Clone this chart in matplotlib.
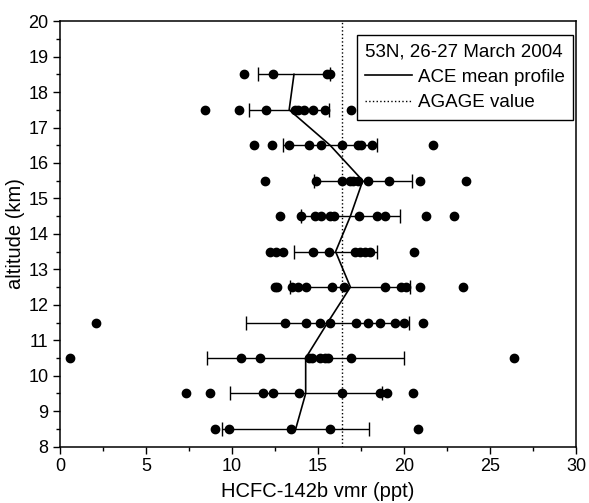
import matplotlib
matplotlib.use('Agg')
import matplotlib.pyplot as plt
from matplotlib.ticker import MultipleLocator

plt.rcParams['font.family'] = ['Liberation Sans', 'DejaVu Sans']

# altitude bins (km)
altitudes = [8.5, 9.5, 10.5, 11.5, 12.5, 13.5, 14.5, 15.5, 16.5, 17.5, 18.5]

# individual ACE occultations per altitude (ppt)
vmr_points = [
    [9.0, 9.85, 13.4, 15.7, 20.8],
    [7.3, 8.7, 11.8, 12.4, 13.9, 16.4, 18.6, 19.0, 20.5],
    [0.6, 10.5, 11.6, 14.5, 14.65, 15.1, 15.4, 15.6, 16.9, 26.4],
    [2.1, 13.1, 14.3, 15.1, 15.7, 17.2, 17.9, 18.6, 19.5, 20.0, 21.1],
    [12.5, 12.6, 13.5, 13.85, 14.3, 15.8, 16.5, 18.9, 19.8, 20.1, 20.9, 23.4],
    [12.2, 12.55, 12.95, 14.7, 15.65, 17.15, 17.45, 17.75, 18.0, 20.6],
    [12.8, 14.0, 14.85, 15.2, 15.7, 15.9, 17.4, 18.45, 18.9, 21.3, 22.9],
    [11.9, 14.9, 16.4, 16.85, 17.05, 17.35, 17.9, 19.1, 20.9, 23.6],
    [11.3, 12.3, 13.3, 14.5, 15.2, 16.4, 17.3, 17.5, 18.15, 21.7],
    [8.45, 10.4, 12.0, 13.65, 13.85, 14.2, 14.7, 15.4, 16.9],
    [10.7, 12.4, 15.5, 15.7],
]

# mean profile and 1-sigma
mean_vmr = [13.7, 14.28, 14.28, 15.56, 16.88, 16.02, 16.88, 17.6, 15.7, 13.32, 13.6]
std_vmr = [4.26, 4.41, 5.74, 4.75, 3.49, 2.4, 2.89, 2.85, 2.72, 2.33, 2.1]

agage_value = 16.4

fig = plt.figure(figsize=(5.89, 5.03), dpi=100)
ax = fig.add_axes([0.102, 0.112, 0.876, 0.846])

# scatter of single profiles
for alt, pts in zip(altitudes, vmr_points):
    ax.plot(pts, [alt] * len(pts), 'o', color='black', markersize=6, zorder=3)

# horizontal error bars
ax.errorbar(mean_vmr, altitudes, xerr=std_vmr, fmt='none', ecolor='black',
            elinewidth=1.0, capsize=5, capthick=1.0, zorder=2)

ax.plot(mean_vmr, altitudes, '-', color='black', linewidth=1.2,
        label='ACE mean profile', zorder=4)
ax.axvline(agage_value, color='black', linestyle=':', linewidth=1.0,
           label='AGAGE value', zorder=1)

ax.set_xlim(0, 30)
ax.set_ylim(8, 20)
ax.xaxis.set_major_locator(MultipleLocator(5))
ax.xaxis.set_minor_locator(MultipleLocator(2.5))
ax.yaxis.set_major_locator(MultipleLocator(1))
ax.yaxis.set_minor_locator(MultipleLocator(0.5))
ax.tick_params(which='major', direction='out', length=5, width=1.0, labelsize=13)
ax.tick_params(which='minor', direction='out', length=3, width=1.0)
for s in ax.spines.values():
    s.set_linewidth(1.1)

ax.set_xlabel('HCFC-142b vmr (ppt)', fontsize=14.5, labelpad=5)
ax.set_ylabel('altitude (km)', fontsize=14.5, labelpad=2)

leg = ax.legend(title='53N, 26-27 March 2004', loc='upper right',
                bbox_to_anchor=(0.994, 0.968), borderaxespad=0,
                fontsize=13.5, title_fontsize=13.5, fancybox=False,
                edgecolor='black', framealpha=1, handlelength=2.5,
                handletextpad=0.3, borderpad=0.45, labelspacing=0.45,
                alignment='left')
leg.get_frame().set_linewidth(1.0)

fig.savefig('out.png', dpi=100)
